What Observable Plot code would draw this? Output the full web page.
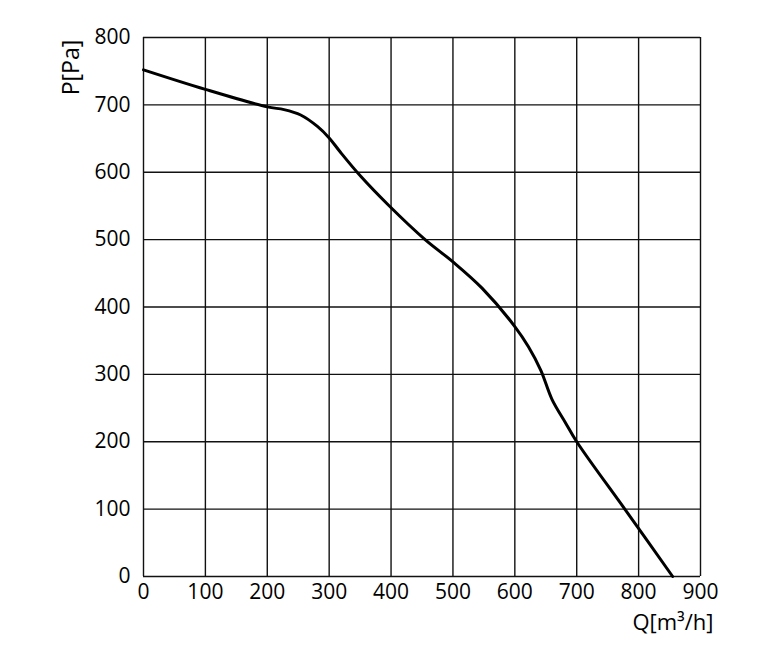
<!DOCTYPE html>
<html>
<head>
<meta charset="utf-8">
<script src="https://cdn.jsdelivr.net/npm/d3@7"></script>
<script src="https://cdn.jsdelivr.net/npm/@observablehq/plot@0.6"></script>
<style>
  html, body { margin: 0; padding: 0; background: #fff; }
  svg { font-family: "Open Sans", sans-serif; }
</style>
</head>
<body>
<div id="chart"></div>
<script>
const flowQ = [0, 100, 200, 227, 254, 281, 300, 318, 351, 396, 455, 500, 547, 600, 622, 642, 660, 682, 700, 780, 855];
const pressureP = [752, 723, 697, 693, 685, 668, 651, 630, 594, 551, 500, 467, 428, 371, 341, 306, 263, 228, 200, 97, 0];
const xTicks = [0, 100, 200, 300, 400, 500, 600, 700, 800, 900];
const yTicks = [0, 100, 200, 300, 400, 500, 600, 700, 800];
const xLabel = "Q[m³/h]";
const yLabel = "P[Pa]";

const data = flowQ.map((q, i) => ({q, p: pressureP[i]}));

const chart = Plot.plot({
  width: 780,
  height: 665,
  marginLeft: 143,
  marginRight: 80,
  marginTop: 37,
  marginBottom: 89,
  x: {domain: [0, 900]},
  y: {domain: [0, 800]},
  style: {fontFamily: "Open Sans, sans-serif", fontSize: "21px", color: "#000", background: "#fff"},
  marks: [
    Plot.ruleX(xTicks, {stroke: "#111", strokeWidth: 1.4}),
    Plot.ruleY(yTicks, {stroke: "#111", strokeWidth: 1.4}),
    Plot.line(data, {x: "q", y: "p", curve: "catmull-rom", stroke: "#000", strokeWidth: 3}),
    Plot.axisX(xTicks, {tickSize: 0, tickPadding: 8, fontSize: 21, label: null, tickFormat: d => String(d)}),
    Plot.axisY(yTicks, {tickSize: 0, tickPadding: 13, fontSize: 21, label: null, tickFormat: d => String(d)}),
    Plot.text([xLabel], {frameAnchor: "bottom-right", dx: 13, dy: 53, fontSize: 22, textAnchor: "end"}),
    Plot.text([yLabel], {frameAnchor: "top-left", dx: -72, dy: 30, rotate: -90, fontSize: 23, textAnchor: "middle", lineAnchor: "middle"})
  ]
});
document.getElementById("chart").appendChild(chart);
</script>
</body>
</html>
